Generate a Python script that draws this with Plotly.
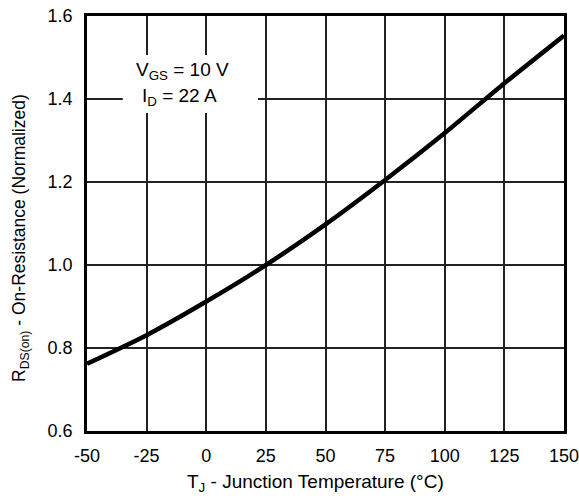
import plotly.graph_objects as go

temps = [-50, -25, 0, 25, 50, 75, 100, 125, 150]
rds_norm = [0.762, 0.831, 0.912, 1.0, 1.098, 1.205, 1.318, 1.438, 1.553]
x_ticks = [-50, -25, 0, 25, 50, 75, 100, 125, 150]
y_ticks = [0.6, 0.8, 1.0, 1.2, 1.4, 1.6]
y_tick_labels = ["0.6", "0.8", "1.0", "1.2", "1.4", "1.6"]

font_family = "Liberation Sans, Arial, sans-serif"

fig = go.Figure()
fig.add_trace(go.Scatter(
    x=temps, y=rds_norm, mode="lines",
    line=dict(color="black", width=4.5, shape="spline", smoothing=0.6),
    showlegend=False, hoverinfo="skip",
))

fig.update_layout(
    width=579, height=498,
    margin=dict(l=87, r=15, t=16, b=67, autoexpand=False),
    paper_bgcolor="white", plot_bgcolor="white",
    font=dict(family=font_family, size=18, color="black"),
)
fig.update_xaxes(
    range=[-50, 150], tickvals=x_ticks, ticktext=[str(v) for v in x_ticks],
    showgrid=True, gridcolor="#222", gridwidth=1.5,
    showline=True, linecolor="black", linewidth=2.5, mirror=True,
    ticks="", zeroline=False, ticklabelstandoff=7, automargin=False,
    ticklabeloverflow="allow",
)
fig.update_yaxes(
    range=[0.6, 1.6], tickvals=y_ticks, ticktext=y_tick_labels,
    showgrid=True, gridcolor="#222", gridwidth=1.5,
    showline=True, linecolor="black", linewidth=2.5, mirror=True,
    ticks="", zeroline=False, ticklabelstandoff=8, automargin=False,
    ticklabeloverflow="allow",
)

# axis titles
fig.add_annotation(xref="paper", yref="paper", x=0.478, y=-0.125,
                   text="T<sub>J</sub> - Junction Temperature (°C)", showarrow=False,
                   font=dict(size=19), xanchor="center", yanchor="middle")
fig.add_annotation(xref="paper", yref="paper", x=-0.1405, y=0.465,
                   text="R<sub>DS(on)</sub> - On-Resistance (Normalized)", showarrow=False,
                   textangle=-90, font=dict(size=17.5), xanchor="center", yanchor="middle")

# white box behind the condition text
fig.add_shape(type="rect", xref="x", yref="y",
              x0=-35, x1=21.7, y0=1.366, y1=1.506,
              fillcolor="white", line=dict(width=0), layer="above")
fig.add_annotation(xref="x", yref="y", x=-30.2, y=1.468,
                   text="V<sub>GS</sub> = 10 V", showarrow=False,
                   font=dict(size=19), xanchor="left", yanchor="middle")
fig.add_annotation(xref="x", yref="y", x=-27.8, y=1.405,
                   text="I<sub>D</sub> = 22 A", showarrow=False,
                   font=dict(size=19), xanchor="left", yanchor="middle")

# remove the browser's default body margin so the figure fills the window exactly
fig.write_html("out.html", config={"displayModeBar": False},
               post_script="document.body.style.margin='0';")
